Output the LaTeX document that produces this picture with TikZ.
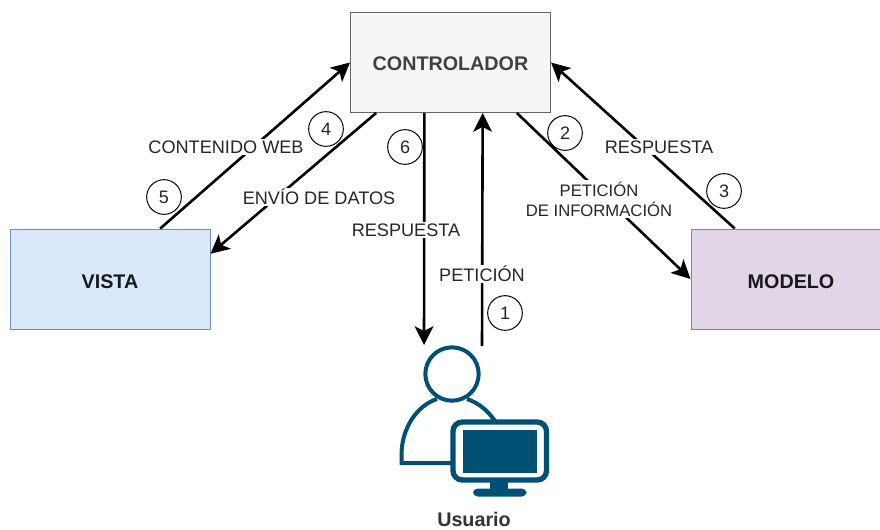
\documentclass[tikz,border=0pt]{standalone}
\usepackage{fontspec}
\setmainfont{Liberation Sans}
\usetikzlibrary{calc,arrows.meta}
\definecolor{icon}{HTML}{005073}
\definecolor{vfill}{HTML}{DAE8FC}
\definecolor{vline}{HTML}{6C8EBF}
\definecolor{mfill}{HTML}{E1D5E7}
\definecolor{mline}{HTML}{9673A6}
\tikzset{
  box/.style={draw,line width=0.75pt,minimum width=150pt,minimum height=75pt,inner sep=0pt,font=\fontsize{14.8}{16}\selectfont\bfseries,text=black!90},
  link/.style={line width=1.95pt,-{Stealth[length=14pt,width=14pt,inset=3.5pt]}},
  lbl/.style={fill=white,inner sep=1pt,font=\fontsize{13.6}{15}\selectfont,text=black!85,align=center},
  num/.style={draw,circle,line width=0.75pt,minimum size=26pt,inner sep=0pt,fill=white,font=\fontsize{13.5}{15}\selectfont,text=black!85},
  iconline/.style={draw=icon,line width=3pt}
}
\begin{document}
\begin{tikzpicture}[x=0.75pt,y=-0.75pt]
\useasboundingbox (0,0) rectangle (880,529);
\clip (0,0) rectangle (880,529);
\node[box,draw=black!60,fill=black!4,text=black!75] (ctrl) at (450.5,62.5) {\raisebox{-1.2pt}[\height][\depth]{CONTROLADOR}};
\node[box,draw=vline,fill=vfill] (vista) at (110,279) {\raisebox{-2.2pt}[\height][\depth]{VISTA}};
\node[box,draw=mline,fill=mfill] (modelo) at (791,279) {\raisebox{-2.2pt}[\height][\depth]{MODELO}};
% user icon
\draw[iconline,line join=miter] (452,463) -- (401.5,463) -- (401.5,455)
  .. controls (401.5,427) and (418,405) .. (437,399);
\draw[iconline] (467,399) .. controls (479,403) and (488,411) .. (495,421);
\node[circle,iconline,fill=white,minimum size=40pt,inner sep=0pt] (head) at (452,374) {};
\draw[icon,line width=4pt,fill=white,rounded corners=7pt] (453,422) rectangle (546.5,480);
\fill[icon] (462.5,430) rectangle (537,473);
\fill[icon] (490,480) rectangle (508,491);
\fill[icon,rounded corners=3.5pt] (473,488.5) rectangle (526.5,496.5);
\node[font=\fontsize{14.8}{16}\selectfont\bfseries,text=black!80] (usr) at (474,519) {Usuario};
\coordinate (uL) at (424,345);
\coordinate (uR) at (482,346);
% connectors
\draw[link] ($(vista.north west)!.75!(vista.north east)$) -- (ctrl.west);
\draw[link] ($(ctrl.south west)!.13!(ctrl.south east)$) -- ($(vista.north east)!.25!(vista.south east)$);
\draw[link] ($(ctrl.south west)!.37!(ctrl.south east)$) -- (uL);
\draw[link] (uR) -- ($(ctrl.south west)!.66!(ctrl.south east)$);
\draw[link] ($(ctrl.south west)!.83!(ctrl.south east)$) -- (modelo.west);
\draw[link] ($(modelo.north west)!.22!(modelo.north east)$) -- (ctrl.east);
% labels
\node[lbl] (l5) at (226,147) {CONTENIDO WEB};
\node[lbl] (l4) at (319,197) {ENVÍO DE DATOS};
\node[lbl] (l6) at (406,230) {RESPUESTA};
\node[lbl] (l1) at (482,274) {PETICIÓN};
\node[lbl,font=\fontsize{12.5}{15}\selectfont] (l2) at (599,199) {PETICIÓN\\DE INFORMACIÓN};
\node[lbl] (l3) at (659,147) {RESPUESTA};
% numbers
\node[num] (n1) at (505,313) {1};
\node[num] (n2) at (565,133) {2};
\node[num] (n3) at (724,191) {3};
\node[num] (n4) at (326,129) {4};
\node[num] (n5) at (164,197) {5};
\node[num] (n6) at (405,147) {6};
\end{tikzpicture}
\end{document}
